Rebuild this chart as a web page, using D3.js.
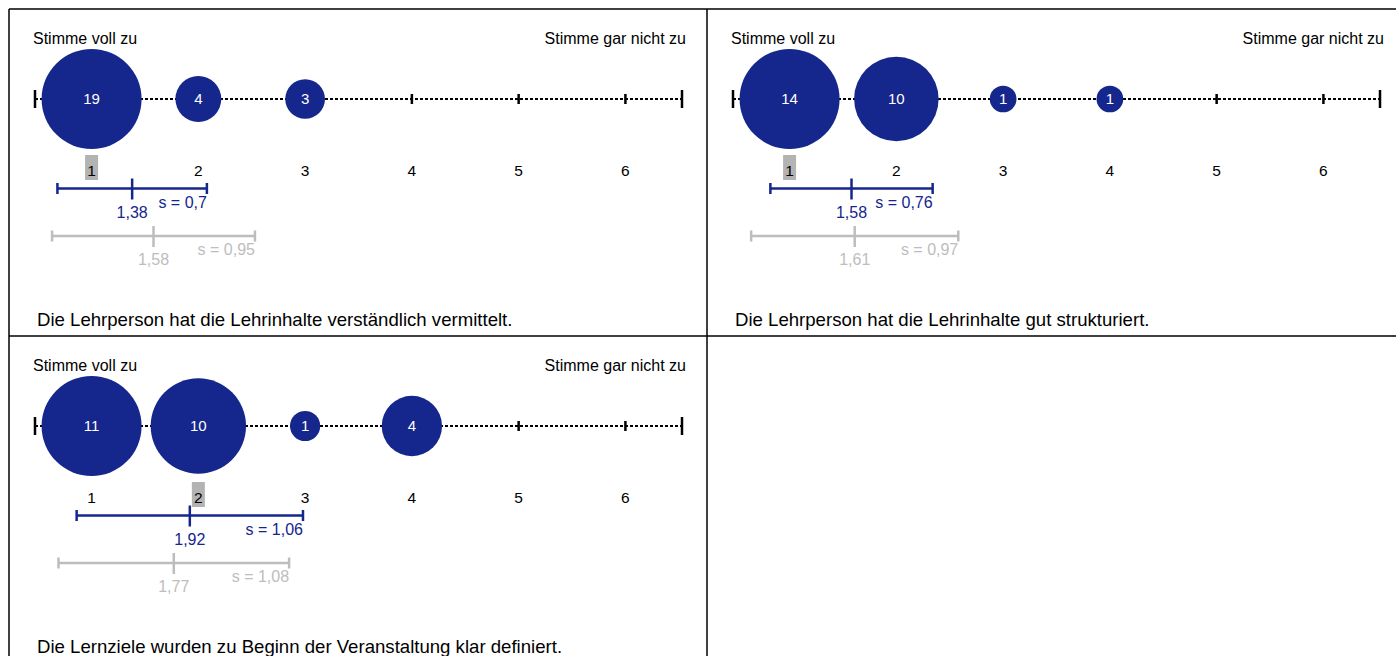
<!DOCTYPE html>
<html>
<head>
<meta charset="utf-8">
<script src="https://cdn.jsdelivr.net/npm/d3@7"></script>
<style>
  body { margin: 0; background: #fff; }
  svg { display: block; font-family: Arial, "Liberation Sans", sans-serif; }
</style>
</head>
<body>
<svg id="chart" width="1396" height="656"></svg>
<script>
// data
const scaleValues = [1, 2, 3, 4, 5, 6];
const leftLabel = "Stimme voll zu";
const rightLabel = "Stimme gar nicht zu";
const questions = [
  "Die Lehrperson hat die Lehrinhalte verständlich vermittelt.",
  "Die Lehrperson hat die Lehrinhalte gut strukturiert.",
  "Die Lernziele wurden zu Beginn der Veranstaltung klar definiert."
];
const counts = [
  [19, 4, 3, 0, 0, 0],
  [14, 10, 1, 1, 0, 0],
  [11, 10, 1, 4, 0, 0]
];
const means = [1.38, 1.58, 1.92];
const sds = [0.7, 0.76, 1.06];
const refMeans = [1.58, 1.61, 1.77];
const refSds = [0.95, 0.97, 1.08];

const blue = "#15268c";
const grey = "#bdbdbd";
const panelW = 698, panelH = 327;
const origin = { x: 9, y: 9 };
const fmt = v => String(v).replace(".", ",");

// median answer from the counts (highlighted under the axis)
function median(cs) {
  const n = d3.sum(cs);
  let acc = 0;
  for (let j = 0; j < cs.length; j++) {
    acc += cs[j];
    if (acc >= n / 2) return scaleValues[j];
  }
}

const svg = d3.select("#chart");

const x = d3.scaleLinear().domain([0.47, 6.53]).range([26, 673]);
const axisY = 90;

questions.forEach((q, i) => {
  const col = i % 2, row = Math.floor(i / 2);
  const g = svg.append("g")
    .attr("transform", `translate(${origin.x + col * panelW},${origin.y + row * panelH})`);

  const r = d3.scaleSqrt().domain([0, d3.max(counts[i])]).range([0, 50]);

  // labels at top
  g.append("text").attr("x", 24).attr("y", 35)
    .style("font-size", "16px").text(leftLabel);
  g.append("text").attr("x", 677).attr("y", 35).attr("text-anchor", "end")
    .style("font-size", "16px").text(rightLabel);

  // dashed axis
  g.append("line")
    .attr("x1", x.range()[0]).attr("x2", x.range()[1])
    .attr("y1", axisY).attr("y2", axisY)
    .attr("stroke", "#000").attr("stroke-width", 2)
    .attr("stroke-dasharray", "3,2");
  x.range().forEach(px => {
    g.append("line").attr("x1", px).attr("x2", px)
      .attr("y1", axisY - 9).attr("y2", axisY + 9)
      .attr("stroke", "#000").attr("stroke-width", 2.5);
  });
  g.selectAll(".tick").data(scaleValues).enter().append("line")
    .attr("x1", d => x(d)).attr("x2", d => x(d))
    .attr("y1", axisY - 5).attr("y2", axisY + 5)
    .attr("stroke", "#000").attr("stroke-width", 2.5);

  // bubbles
  const bub = g.selectAll(".bub").data(counts[i].map((c, j) => ({ c, v: scaleValues[j] })).filter(d => d.c > 0))
    .enter().append("g")
    .attr("transform", d => `translate(${x(d.v)},${axisY})`);
  bub.append("circle").attr("r", d => r(d.c)).attr("fill", blue);
  bub.append("text").attr("text-anchor", "middle").attr("dy", "0.35em")
    .style("font-size", "15px").attr("fill", "#fff").text(d => d.c);

  // tick labels with highlighted median
  const hl = median(counts[i]);
  g.append("rect")
    .attr("x", x(hl) - 6.5).attr("y", 146)
    .attr("width", 13).attr("height", 25)
    .attr("fill", "#b3b3b3");
  g.selectAll(".lab").data(scaleValues).enter().append("text")
    .attr("x", d => x(d)).attr("y", 167)
    .attr("text-anchor", "middle")
    .style("font-size", "15.5px").attr("fill", "#000")
    .text(d => d);

  // mean +- sd bars
  const bars = [
    { m: means[i], s: sds[i], y: 179.5, color: blue },
    { m: refMeans[i], s: refSds[i], y: 227, color: grey }
  ];
  bars.forEach(b => {
    const bg = g.append("g").attr("stroke", b.color).attr("stroke-width", 2.5);
    bg.append("line").attr("x1", x(b.m - b.s)).attr("x2", x(b.m + b.s))
      .attr("y1", b.y).attr("y2", b.y);
    [b.m - b.s, b.m + b.s].forEach(v => {
      bg.append("line").attr("x1", x(v)).attr("x2", x(v))
        .attr("y1", b.y - 5.5).attr("y2", b.y + 5.5);
    });
    bg.append("line").attr("x1", x(b.m)).attr("x2", x(b.m))
      .attr("y1", b.y - 10).attr("y2", b.y + 11);
    g.append("text").attr("x", x(b.m)).attr("y", b.y + 29)
      .attr("text-anchor", "middle").style("font-size", "16px")
      .attr("fill", b.color).text(fmt(b.m));
    g.append("text").attr("x", x(b.m + b.s)).attr("y", b.y + 19)
      .attr("text-anchor", "end").style("font-size", "16px")
      .attr("fill", b.color).text("s = " + fmt(b.s));
  });

  // question
  g.append("text").attr("x", 28).attr("y", 317)
    .style("font-size", "18.6px").attr("fill", "#000").text(q);
});

// grid lines
const grid = svg.append("g").attr("stroke", "#000").attr("stroke-width", 1.5);
grid.append("line").attr("x1", origin.x).attr("x2", 1396).attr("y1", origin.y).attr("y2", origin.y);
grid.append("line").attr("x1", origin.x).attr("x2", 1396).attr("y1", origin.y + panelH).attr("y2", origin.y + panelH);
grid.append("line").attr("x1", origin.x).attr("x2", origin.x).attr("y1", origin.y).attr("y2", 656);
grid.append("line").attr("x1", origin.x + panelW).attr("x2", origin.x + panelW).attr("y1", origin.y).attr("y2", 656);
</script>
</body>
</html>
